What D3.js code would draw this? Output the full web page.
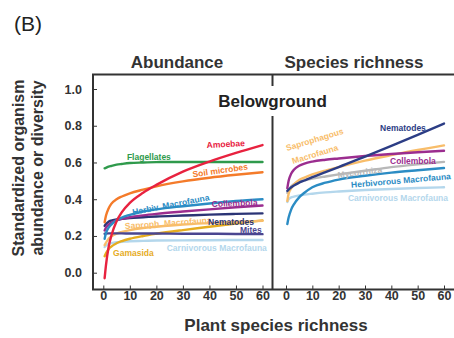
<!DOCTYPE html>
<html>
<head>
<meta charset="utf-8">
<script src="https://cdn.jsdelivr.net/npm/d3@7"></script>
<style>
  body { margin: 0; background: #fff; }
  svg { display: block; font-family: "Liberation Sans", Arial, sans-serif; }
</style>
</head>
<body>
<div id="chart"></div>
<script>
// ---------- Data ----------
const richness = [0.5, 1, 2, 3, 5, 7, 10, 15, 20, 30, 40, 50, 60];
const xTicks = [0, 10, 20, 30, 40, 50, 60];
const yTicks = [0, 0.2, 0.4, 0.6, 0.8, 1.0];

// abundance panel
const flagellates = [0.568, 0.571, 0.577, 0.581, 0.588, 0.592, 0.597, 0.600, 0.602, 0.603, 0.603, 0.603, 0.603];
const amoebae = [-0.03, 0.04, 0.14, 0.20, 0.28, 0.33, 0.38, 0.435, 0.478, 0.55, 0.605, 0.652, 0.695];
const soilMicrobes = [0.275, 0.31, 0.35, 0.375, 0.40, 0.415, 0.432, 0.452, 0.47, 0.497, 0.517, 0.533, 0.547];
const herbivAbund = [0.185, 0.215, 0.245, 0.262, 0.285, 0.30, 0.315, 0.333, 0.345, 0.362, 0.377, 0.39, 0.40];
const collembolaAbund = [0.23, 0.245, 0.262, 0.272, 0.285, 0.293, 0.302, 0.312, 0.32, 0.333, 0.345, 0.356, 0.366];
const nematodesAbund = [0.255, 0.265, 0.278, 0.284, 0.29, 0.294, 0.298, 0.302, 0.306, 0.311, 0.316, 0.32, 0.323];
const mites = [0.212, 0.213, 0.214, 0.214, 0.214, 0.214, 0.213, 0.213, 0.213, 0.212, 0.212, 0.211, 0.21];
const saprophAbund = [0.15, 0.163, 0.185, 0.197, 0.213, 0.222, 0.232, 0.243, 0.25, 0.262, 0.27, 0.277, 0.282];
const gamasida = [0.09, 0.105, 0.128, 0.142, 0.16, 0.172, 0.185, 0.2, 0.212, 0.232, 0.25, 0.268, 0.285];
const carnivAbund = [0.14, 0.148, 0.157, 0.161, 0.166, 0.168, 0.171, 0.173, 0.175, 0.176, 0.177, 0.178, 0.178];

// species richness panel
const nematodesRich = [0.445, 0.452, 0.465, 0.475, 0.49, 0.502, 0.52, 0.548, 0.575, 0.632, 0.69, 0.75, 0.812];
const saprophRich = [0.39, 0.43, 0.46, 0.48, 0.505, 0.518, 0.535, 0.556, 0.575, 0.61, 0.64, 0.668, 0.693];
const collembolaRich = [0.46, 0.50, 0.54, 0.56, 0.582, 0.594, 0.605, 0.615, 0.622, 0.635, 0.646, 0.656, 0.664];
const mycorrhizaRich = [0.435, 0.45, 0.47, 0.482, 0.495, 0.503, 0.512, 0.524, 0.535, 0.555, 0.575, 0.59, 0.603];
const herbivRich = [0.265, 0.30, 0.345, 0.372, 0.41, 0.435, 0.465, 0.49, 0.507, 0.528, 0.545, 0.558, 0.57];
const carnivRich = [0.385, 0.40, 0.41, 0.414, 0.42, 0.425, 0.43, 0.437, 0.442, 0.45, 0.456, 0.461, 0.465];

// ---------- Colours ----------
const col = {
  green: "#2f9a4c", red: "#e8223f", orange: "#f47b2a", blue: "#2b8cc4",
  purple: "#9b2d8f", navy: "#2b3475", mites: "#4a4590", peach: "#f8bd6a",
  gold: "#e6ac1f", light: "#b4d7ec", gray: "#b8b8b8", navy2: "#2c3d85"
};

// ---------- Layout ----------
const W = 454, H = 338;
const frame = { left: 93, top: 74.5, bottom: 289.5, mid: 272.5, right: 462 };

const svg = d3.select("#chart").append("svg")
  .attr("width", W).attr("height", H);

const y = d3.scaleLinear().domain([0, 1]).range([272.7, 89]);
const xAbund = d3.scaleLinear().domain([0, 60]).range([103.3, 262.5]);
const xRich = d3.scaleLinear().domain([0, 60]).range([286, 444]);

// ---------- Series ----------
const abundSeries = [
  { vals: carnivAbund, color: col.light },
  { vals: gamasida, color: col.gold },
  { vals: saprophAbund, color: col.peach },
  { vals: mites, color: col.mites },
  { vals: nematodesAbund, color: col.navy },
  { vals: collembolaAbund, color: col.purple },
  { vals: herbivAbund, color: col.blue },
  { vals: soilMicrobes, color: col.orange },
  { vals: flagellates, color: col.green },
  { vals: amoebae, color: col.red }
];
const richSeries = [
  { vals: carnivRich, color: col.light },
  { vals: herbivRich, color: col.blue },
  { vals: mycorrhizaRich, color: col.gray },
  { vals: saprophRich, color: col.peach },
  { vals: collembolaRich, color: col.purple },
  { vals: nematodesRich, color: col.navy2 }
];

function drawLines(series, x) {
  const line = d3.line()
    .x((d, i) => x(richness[i]))
    .y(d => y(d))
    .curve(d3.curveMonotoneX);
  svg.append("g").selectAll("path")
    .data(series).enter().append("path")
    .attr("d", d => line(d.vals))
    .attr("fill", "none")
    .attr("stroke", d => d.color)
    .attr("stroke-width", 2.4)
    .attr("stroke-linecap", "round");
}
drawLines(abundSeries, xAbund);
drawLines(richSeries, xRich);

// ---------- Curve labels ----------
const abundLabels = [
  { text: "Flagellates", x: 8.9, y: 0.616, rot: 0, color: col.green },
  { text: "Amoebae", x: 39, y: 0.679, rot: -3, color: col.red },
  { text: "Soil microbes", x: 33.8, y: 0.52, rot: -8, color: col.orange },
  { text: "Herbiv. Macrofauna", x: 11.2, y: 0.314, rot: -11, color: col.blue },
  { text: "Collembola", x: 40.9, y: 0.358, rot: -2, color: col.purple },
  { text: "Saproph. Macrofauna", x: 8.2, y: 0.238, rot: -4, color: col.peach },
  { text: "Nematodes", x: 39.5, y: 0.262, rot: 0, color: col.navy },
  { text: "Mites", x: 51.5, y: 0.216, rot: 0, color: col.mites },
  { text: "Carnivorous Macrofauna", x: 23.9, y: 0.118, rot: 0, color: col.light },
  { text: "Gamasida", x: 3.7, y: 0.091, rot: 0, color: col.gold }
];
const richLabels = [
  { text: "Nematodes", x: 35.7, y: 0.774, rot: 0, color: col.navy2 },
  { text: "Saprophagous", x: 0.4, y: 0.662, rot: -17, color: col.peach },
  { text: "Macrofauna", x: 2.7, y: 0.592, rot: -17, color: col.peach },
  { text: "Collembola", x: 39.5, y: 0.594, rot: 0, color: col.purple },
  { text: "Mycorrhiza", x: 19.7, y: 0.516, rot: -7, color: col.gray },
  { text: "Herbivorous Macrofauna", x: 24.8, y: 0.462, rot: -5, color: col.blue },
  { text: "Carnivorous Macrofauna", x: 23.5, y: 0.393, rot: 0, color: col.light }
];

function drawLabels(labels, x) {
  svg.append("g").selectAll("text")
    .data(labels).enter().append("text")
    .attr("transform", d => `translate(${x(d.x)},${y(d.y)}) rotate(${d.rot})`)
    .attr("fill", d => d.color)
    .attr("font-size", 8.5)
    .attr("font-weight", "bold")
    .text(d => d.text);
}
drawLabels(abundLabels, xAbund);
drawLabels(richLabels, xRich);

// ---------- Frame ----------
const ink = "#333";
svg.append("path")
  .attr("d", `M${frame.right},${frame.top}H${frame.left}V${frame.bottom}H${frame.right}`)
  .attr("fill", "none").attr("stroke", ink).attr("stroke-width", 2);
svg.append("line")
  .attr("x1", frame.mid).attr("x2", frame.mid)
  .attr("y1", frame.top).attr("y2", 86)
  .attr("stroke", ink).attr("stroke-width", 2);
svg.append("line")
  .attr("x1", frame.mid).attr("x2", frame.mid)
  .attr("y1", 116).attr("y2", frame.bottom)
  .attr("stroke", ink).attr("stroke-width", 2);

// ---------- Axes ----------
svg.append("g")
  .attr("transform", `translate(${frame.left},0)`)
  .call(d3.axisLeft(y).tickValues(yTicks).tickSize(-4).tickPadding(11)
    .tickFormat(d3.format(".1f")));

[xAbund, xRich].forEach(x => {
  svg.append("g")
    .attr("transform", `translate(0,${frame.bottom})`)
    .call(d3.axisBottom(x).tickValues(xTicks).tickSize(-4).tickPadding(2));
});

svg.selectAll(".domain").remove();
svg.selectAll(".tick line").attr("stroke", ink).attr("stroke-width", 1);
svg.selectAll(".tick text")
  .attr("fill", ink)
  .attr("font-size", 12.5)
  .attr("font-weight", "bold")
  .attr("font-family", "Liberation Sans, Arial, sans-serif");

// ---------- Titles ----------
svg.append("text")
  .attr("x", 14).attr("y", 31)
  .attr("font-size", 21).attr("fill", "#222")
  .text("(B)");

svg.append("text")
  .attr("x", 177).attr("y", 67.5)
  .attr("text-anchor", "middle")
  .attr("font-size", 17).attr("font-weight", "bold").attr("fill", ink)
  .text("Abundance");

svg.append("text")
  .attr("x", 354).attr("y", 67.5)
  .attr("text-anchor", "middle")
  .attr("font-size", 17).attr("font-weight", "bold").attr("fill", ink)
  .text("Species richness");

svg.append("text")
  .attr("x", frame.mid).attr("y", 107)
  .attr("text-anchor", "middle")
  .attr("font-size", 17).attr("font-weight", "bold").attr("fill", "#222")
  .text("Belowground");

svg.append("text")
  .attr("x", 276).attr("y", 331)
  .attr("text-anchor", "middle")
  .attr("font-size", 17).attr("font-weight", "bold").attr("fill", ink)
  .text("Plant species richness");

const yLabel = svg.append("text")
  .attr("transform", "translate(0,168) rotate(-90)")
  .attr("text-anchor", "middle")
  .attr("font-size", 16).attr("font-weight", "bold").attr("fill", ink);
yLabel.append("tspan").attr("x", 0).attr("y", 24).text("Standardized organism");
yLabel.append("tspan").attr("x", 0).attr("y", 43).text("abundance or diversity");
</script>
</body>
</html>
